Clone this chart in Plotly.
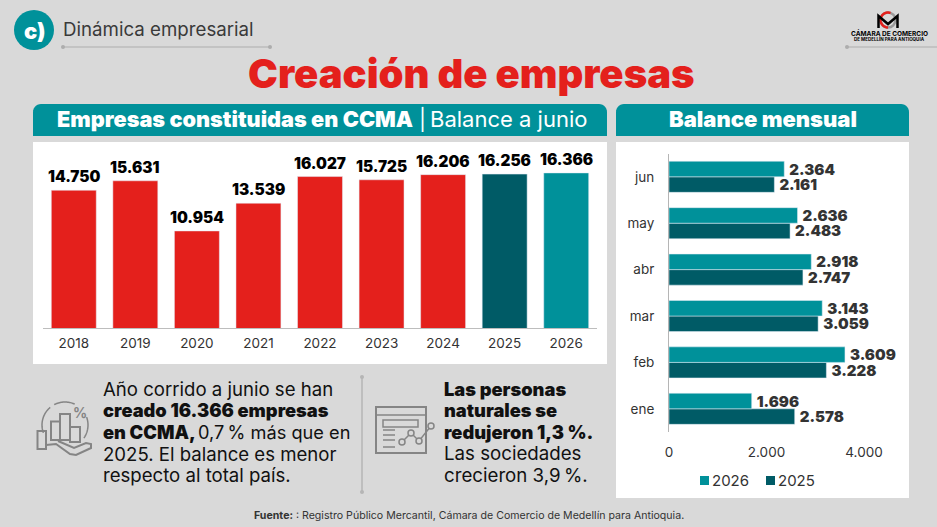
import numpy as np
import plotly.graph_objects as go

W, H = 937, 527

years = ["2018", "2019", "2020", "2021", "2022", "2023", "2024", "2025", "2026"]
empresas = [14750, 15631, 10954, 13539, 16027, 15725, 16206, 16256, 16366]

meses = ["ene", "feb", "mar", "abr", "may", "jun"]
mes_2026 = [1696, 3609, 3143, 2918, 2636, 2364]
mes_2025 = [2578, 3228, 3059, 2747, 2483, 2161]

texto_izq = [
    "Año corrido a junio se han",
    "creado 16.366 empresas",
    "en CCMA,",
    "2025. El balance es menor",
    "respecto al total país.",
]
texto_izq_resto = "0,7\u2009% más que en"
texto_der = [
    "Las personas",
    "naturales se",
    "redujeron 1,3 %.",
    "Las sociedades",
    "crecieron 3,9\u2009%.",
]

TEAL = "#00919a"
DARK = "#005b66"
RED = "#e4201c"
GREY = "#858585"
LINE = "#adadad"
FONT = "Inter"


def fmt(v):
    return f"{v:,}".replace(",", ".")


def px(x):
    return x / W


def py(y):
    return 1 - y / H


def path(points, close=False):
    d = "M " + " L ".join(f"{px(x):.5f},{py(y):.5f}" for x, y in points)
    return d + (" Z" if close else "")


def rect(x0, y0, x1, y1, fill=None, color=None, width=0):
    return dict(type="rect", xref="paper", yref="paper", layer="below",
                x0=px(x0), x1=px(x1), y0=py(y0), y1=py(y1),
                fillcolor=fill, line=dict(color=color, width=width))


def circle(cx, cy, r, fill=None, color=None, width=0):
    return dict(type="circle", xref="paper", yref="paper", layer="below",
                x0=px(cx - r), x1=px(cx + r), y0=py(cy - r), y1=py(cy + r),
                fillcolor=fill, line=dict(color=color, width=width))


def line(points, color=GREY, width=1.5, fill=None, close=False):
    return dict(type="path", xref="paper", yref="paper", layer="below",
                path=path(points, close), fillcolor=fill,
                line=dict(color=color, width=width))


def arc(cx, cy, r, a0, a1, n=24):
    t = np.radians(np.linspace(a0, a1, n))
    return [(cx + r * np.cos(a), cy - r * np.sin(a)) for a in t]


def header(x0, y0, x1, y1, r=8):
    pts = [(x0, y1)] + arc(x0 + r, y0 + r, r, 180, 90, 8) + arc(x1 - r, y0 + r, r, 90, 0, 8) + [(x1, y1)]
    return line(pts, color=TEAL, width=0, fill=TEAL, close=True)


def label(x, y, text, size, color="#1a1a1a", anchor="left", weight=None):
    return dict(xref="paper", yref="paper", x=px(x), y=py(y), text=text, showarrow=False,
                xanchor=anchor, yanchor="middle",
                font=dict(family=FONT, size=size, color=color, weight=weight))


fig = go.Figure()

fig.add_trace(go.Bar(x=years, y=empresas, xaxis="x", yaxis="y", showlegend=False,
                     marker_color=[RED] * 7 + [DARK, TEAL], width=0.73))

# etiquetas de mes: el espacio fino las separa un poco de la barra
fig.add_trace(go.Bar(y=meses, x=mes_2025, name="2025", orientation="h", xaxis="x2", yaxis="y2",
                     marker_color=DARK, text=["\u2009" + fmt(v) for v in mes_2025], textposition="outside",
                     showlegend=False, cliponaxis=False, constraintext="none",
                     textfont=dict(family=FONT, size=15, color="#333333", weight=900)))
fig.add_trace(go.Bar(y=meses, x=mes_2026, name="2026", orientation="h", xaxis="x2", yaxis="y2",
                     marker_color=TEAL, text=["\u2009" + fmt(v) for v in mes_2026], textposition="outside",
                     showlegend=False, cliponaxis=False, constraintext="none",
                     textfont=dict(family=FONT, size=15, color="#333333", weight=900)))

shapes = [
    rect(33, 142, 607, 364, fill="#ffffff"),
    rect(616, 142, 909, 498, fill="#ffffff"),
    header(33, 104, 607, 136),
    header(616, 104, 909, 136),
    # cabecera
    circle(34, 30, 20, fill=TEAL),
    line([(63, 47), (270, 47)], color=LINE, width=1.2),
    circle(63, 47, 2, fill=LINE),
    circle(270, 47, 2, fill=LINE),
    line([(847, 47), (937, 47)], color=LINE, width=1.2),
    circle(847, 47, 2, fill=LINE),
    # logo
    circle(888, 20, 7.5, color="#9a9a9a", width=2.5),
    line(arc(888, 20, 7.5, 70, 270), color=RED, width=2.5),
    line([(878.5, 28), (878.5, 16), (888, 24), (897.5, 16), (897.5, 28)], color="#000000", width=2.5),
    # separador
    line([(362, 377), (362, 492)], color="#b5b5b5", width=1.5),
    circle(362, 377, 2, fill="#b5b5b5"),
    circle(362, 492, 2, fill="#b5b5b5"),
    # leyenda
    rect(700, 476, 709, 485, fill=TEAL),
    rect(766, 476, 775, 485, fill=DARK),
    # icono mano
    rect(37.5, 431, 46, 449, color=GREY, width=2),
    rect(51, 421.5, 60, 440, color=GREY, width=2),
    rect(60, 414, 70, 440, color=GREY, width=2),
    rect(70, 427, 80, 442, color=GREY, width=2),
    line(arc(65, 425, 23, 200, 130), color=GREY, width=1.5),
    line(arc(65, 425, 23, 118, 65), color=GREY, width=1.5),
    line(arc(65, 425, 23, 20, -35), color=GREY, width=1.5),
    line([(46, 445), (56, 444), (70, 454), (76, 455), (91, 448), (91, 444), (86, 443), (74, 448), (58, 441)],
         color=GREY, width=2),
    # icono ventana
    rect(376, 407, 426, 453, color=GREY, width=2),
    line([(376, 415), (426, 415)], color=GREY, width=1.5),
    rect(383, 420, 418, 427, color=GREY, width=1.5),
    line([(402, 442), (411, 433), (419, 441), (431, 426)], color=GREY, width=1.5),
]
for yy in [430, 435, 440, 447]:
    shapes.append(line([(383, yy), (395, yy)], color=GREY, width=1.5))
for cx, cy in [(402, 442), (411, 433), (419, 441), (431, 426)]:
    shapes.append(circle(cx, cy, 3, fill="#d9d9d9", color=GREY, width=1.5))

annotations = [
    label(34, 31, "c)", 22, color="#ffffff", anchor="center", weight=900),
    label(61, 29, "Dinámica empresarial", 18.7, color="#3a3a3a"),
    label(471, 73, "Creación de empresas", 40, color=RED, anchor="center", weight=900),
    label(55, 119, "Empresas constituidas en CCMA", 21.7, color="#ffffff", weight=900),
    label(417, 119, "|", 21, color="#ffffff"),
    label(428, 119, "Balance a junio", 22, color="#ffffff"),
    label(763, 119, "Balance mensual", 22, color="#ffffff", anchor="center", weight=900),
    label(889, 34, "<b>CÁMARA DE COMERCIO</b>", 6.5, color="#000000", anchor="center"),
    label(889, 39, "<b>DE MEDELLÍN PARA ANTIOQUIA</b>", 4.5, color="#000000", anchor="center"),
    label(80, 412, "<b>%</b>", 14, color=GREY, anchor="center"),
    label(469, 515, "<b>Fuente:</b> : Registro Público Mercantil, Cámara de Comercio de Medellín para Antioquia.",
          10.6, color="#333333", anchor="center"),
    label(709.5, 480, "2026", 15, color="#333333"),
    label(775.5, 480, "2025", 15, color="#333333"),
]
for i, t in enumerate(texto_izq):
    negrita = i in (1, 2)
    annotations.append(label(101, 388.5 + i * 21.7, t, 18.3 if negrita else 18.6, color="#111111",
                             weight=900 if negrita else None))
annotations.append(label(196, 388.5 + 2 * 21.7, texto_izq_resto, 18.2, color="#111111"))
for i, t in enumerate(texto_der):
    negrita = i < 3
    annotations.append(label(442, 388.5 + i * 21.7, t, 18.3 if negrita else 18.7, color="#111111",
                             weight=900 if negrita else None))
# etiquetas de las barras anuales; en eje de categorías x es el índice
for i, v in enumerate(empresas):
    annotations.append(dict(xref="x", yref="y", x=i, y=v, text=fmt(v), showarrow=False,
                            xanchor="center", yanchor="bottom", yshift=2,
                            font=dict(family=FONT, size=15.3, color="#000000", weight=900)))

fig.update_layout(
    width=W, height=H, margin=dict(l=0, r=0, t=0, b=0, autoexpand=False),
    paper_bgcolor="#d9d9d9", plot_bgcolor="rgba(0,0,0,0)",
    font=dict(family=FONT, color="#333333"),
    barmode="group", bargap=0.33, bargroupgap=0, showlegend=False,
    shapes=shapes, annotations=annotations,
    xaxis=dict(domain=[px(43), px(597)], anchor="y", type="category", showgrid=False, showline=True,
               automargin=False, linecolor="#bdbdbd", ticks="outside", ticklen=3,
               tickcolor="rgba(0,0,0,0)", tickfont=dict(size=13.5, color="#333333")),
    yaxis=dict(domain=[py(328), py(142)], anchor="x", range=[1900, 19250], visible=False, automargin=False),
    xaxis2=dict(domain=[px(669), px(900)], anchor="y2", range=[0, 4738], tickvals=[0, 2000, 4000],
                ticktext=["0", "2.000", "4.000"], showgrid=False, zeroline=False, automargin=False,
                ticks="outside", ticklen=8, tickcolor="rgba(0,0,0,0)",
                tickfont=dict(size=13.5, color="#333333")),
    yaxis2=dict(domain=[py(432), py(153.6)], anchor="x2", type="category", showgrid=False, showline=True,
                automargin=False, linecolor="#b5b5b5", ticks="outside", ticklen=11,
                tickcolor="rgba(0,0,0,0)", tickfont=dict(size=13.5, color="#333333")),
)

fig.write_html("out.html", config={"displayModeBar": False},
               post_script="document.body.style.margin='0';document.body.style.overflow='hidden';")
